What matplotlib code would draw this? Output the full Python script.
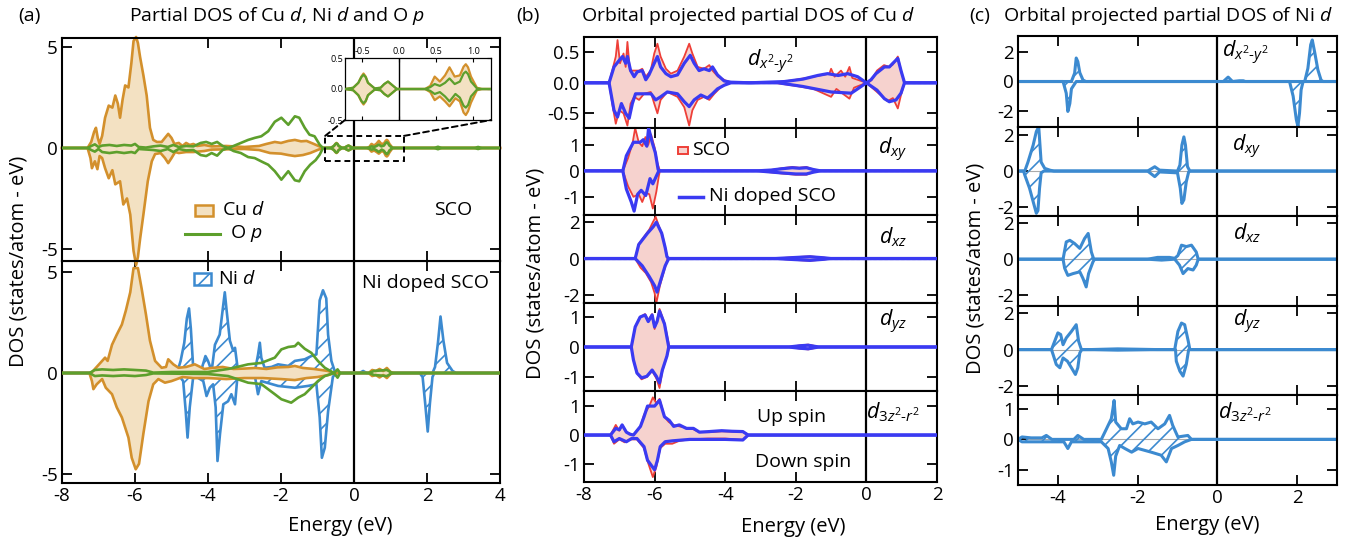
import numpy as np
import matplotlib
matplotlib.use("Agg")
import matplotlib.pyplot as plt
from matplotlib.patches import Rectangle, ConnectionPatch
from matplotlib.lines import Line2D

plt.rcParams['font.family'] = ['Open Sans', 'DejaVu Sans']
plt.rcParams['mathtext.fontset'] = 'custom'
plt.rcParams['mathtext.rm'] = 'Open Sans'
plt.rcParams['mathtext.it'] = 'Open Sans:italic'
plt.rcParams['mathtext.bf'] = 'Open Sans:bold'
plt.rcParams['hatch.linewidth'] = 1.2
plt.rcParams['axes.unicode_minus'] = False

# ---------------- colours ----------------
C_CU, F_CU = '#D3902C', '#F3E1C2'
C_O = '#5D9F2C'
C_NI = '#3C8AD0'
C_SCO, F_SCO = '#EE3F38', '#F6D2CE'
C_NID = '#3A3AF2'

# ---------------- data : panel (a) top (SCO) ----------------
CU_A_UP = [(-8,0),(-7.3,0),(-7.2,0.3),(-7.12,0.8),(-7.07,1.0),(-7.02,0.5),(-6.97,0.2),(-6.9,0.6),(-6.82,1.5),
           (-6.72,2.1),(-6.62,2.0),(-6.54,2.6),(-6.47,2.2),(-6.41,1.5),(-6.34,2.4),(-6.27,3.1),(-6.18,3.0),
           (-6.1,4.2),(-6.04,5.3),(-5.97,5.5),(-5.92,5.2),(-5.86,4.5),(-5.77,3.6),(-5.68,2.6),(-5.59,1.0),
           (-5.5,0.4),(-5.4,0.3),(-5.27,0.3),(-5.18,0.5),(-5.09,0.7),(-5.0,0.5),(-4.92,0.2),(-4.8,0.25),
           (-4.7,0.1),(-4.6,0.25),(-4.5,0.15),(-4.4,0.2),(-4.3,0.1),(-4.1,0.15),(-3.9,0.08),(-3.5,0.1),
           (-3.0,0.05),(-2.6,0.1),(-2.4,0.2),(-2.17,0.3),(-2.0,0.25),(-1.8,0.35),(-1.62,0.4),(-1.45,0.33),
           (-1.3,0.35),(-1.1,0.2),(-0.95,0.08),(-0.85,0.0),
           (-0.73,0),(-0.62,0.02),(-0.55,0.1),(-0.51,0.2),(-0.48,0.25),(-0.45,0.2),(-0.42,0.1),(-0.33,0.01),
           (-0.25,0.02),(-0.2,0.08),(-0.15,0.12),(-0.1,0.07),(-0.03,0.0),(0.35,0.0),(0.42,0.05),(0.48,0.2),
           (0.55,0.12),(0.62,0.22),(0.68,0.35),(0.75,0.2),(0.82,0.22),(0.87,0.36),(0.9,0.4),(0.93,0.35),
           (0.97,0.2),(1.05,0.02),(1.12,0),(4,0)]
CU_A_DN = [(-8,0),(-7.3,0),(-7.22,-0.5),(-7.18,-1.0),(-7.1,-0.66),(-7.03,-1.05),(-6.97,-0.4),(-6.9,-0.5),
           (-6.82,-1.0),(-6.72,-1.5),(-6.62,-1.1),(-6.54,-1.8),(-6.41,-1.65),(-6.32,-2.8),(-6.22,-2.5),
           (-6.13,-3.3),(-6.04,-5.1),(-5.97,-5.8),(-5.92,-5.4),(-5.86,-4.5),(-5.77,-3.3),(-5.65,-1.65),
           (-5.54,-0.66),(-5.45,-0.3),(-5.3,-0.25),(-5.18,-0.5),(-5.09,-0.75),(-5.0,-0.5),(-4.9,-0.2),
           (-4.8,-0.25),(-4.6,-0.2),(-4.4,-0.2),(-4.1,-0.15),(-3.9,-0.08),(-3.0,-0.05),(-2.6,-0.1),
           (-2.3,-0.25),(-2.0,-0.28),(-1.8,-0.35),(-1.62,-0.4),(-1.4,-0.35),(-1.2,-0.25),(-1.0,-0.1),(-0.85,0.0),
           (-0.73,0),(-0.62,-0.02),(-0.55,-0.1),(-0.51,-0.2),(-0.48,-0.25),(-0.45,-0.2),(-0.42,-0.1),
           (-0.33,-0.01),(-0.25,-0.02),(-0.2,-0.08),(-0.15,-0.12),(-0.1,-0.07),(-0.03,0.0),(0.35,0.0),
           (0.42,-0.05),(0.48,-0.18),(0.55,-0.12),(0.62,-0.2),(0.68,-0.28),(0.76,-0.15),(0.82,-0.2),
           (0.87,-0.38),(0.9,-0.42),(0.93,-0.36),(0.97,-0.22),(1.05,-0.02),(1.12,0),(4,0)]
O_A_UP = [(-8,0),(-7.3,0),(-7.2,0.1),(-7.1,0.18),(-7.0,0.05),(-6.9,0.12),(-6.7,0.15),(-6.5,0.1),(-6.3,0.15),
          (-6.1,0.12),(-6.0,0.2),(-5.9,0.05),(-5.7,0.02),(-5.5,0.08),(-5.3,0.12),(-5.1,0.05),(-4.95,0.15),
          (-4.8,0.05),(-4.6,0.1),(-4.4,0.08),(-4.2,0.25),(-4.05,0.3),(-3.9,0.2),(-3.75,0.3),(-3.6,0.1),
          (-3.45,0.0),(-3.3,0.1),(-3.1,0.25),(-2.9,0.4),(-2.72,0.5),(-2.54,0.58),(-2.35,0.83),(-2.17,1.3),
          (-1.99,1.5),(-1.8,1.15),(-1.62,1.57),(-1.5,1.5),(-1.35,1.0),(-1.22,0.66),(-1.08,0.58),(-0.94,0.16),
          (-0.85,0.0),
          (-0.73,0),(-0.62,0.02),(-0.55,0.1),(-0.51,0.19),(-0.48,0.23),(-0.45,0.19),(-0.42,0.1),(-0.33,0.01),
          (-0.25,0.02),(-0.2,0.08),(-0.15,0.12),(-0.1,0.07),(-0.03,0.0),(0.35,0.0),(0.42,0.03),(0.48,0.08),
          (0.55,0.05),(0.62,0.1),(0.68,0.17),(0.75,0.08),(0.82,0.12),(0.87,0.25),(0.9,0.28),(0.93,0.24),
          (0.97,0.12),(1.05,0.01),(1.12,0),(2.2,0),(2.3,0.06),(2.4,0),(3.3,0),(3.4,0.05),(3.5,0),(4,0)]
O_A_DN = [(-8,0),(-7.3,0),(-7.2,-0.1),(-7.1,-0.18),(-7.0,-0.05),(-6.9,-0.2),(-6.7,-0.25),(-6.5,-0.2),
          (-6.3,-0.25),(-6.1,-0.2),(-6.0,-0.25),(-5.9,-0.05),(-5.5,-0.1),(-5.3,-0.15),(-5.1,-0.05),
          (-4.95,-0.2),(-4.8,-0.05),(-4.6,-0.12),(-4.4,-0.1),(-4.2,-0.35),(-4.05,-0.4),(-3.9,-0.25),
          (-3.75,-0.38),(-3.6,-0.1),(-3.45,0.0),(-3.3,-0.15),(-3.1,-0.25),(-2.9,-0.45),(-2.72,-0.5),
          (-2.5,-0.7),(-2.35,-0.83),(-2.17,-1.15),(-1.99,-1.57),(-1.8,-1.15),(-1.62,-1.6),(-1.5,-1.65),
          (-1.35,-1.15),(-1.2,-0.83),(-1.05,-0.6),(-0.94,-0.33),(-0.85,0.0),
          (-0.73,0),(-0.62,-0.02),(-0.55,-0.1),(-0.51,-0.19),(-0.48,-0.23),(-0.45,-0.19),(-0.42,-0.1),
          (-0.33,-0.01),(-0.25,-0.02),(-0.2,-0.08),(-0.15,-0.12),(-0.1,-0.07),(-0.03,0.0),(0.35,0.0),
          (0.42,-0.03),(0.48,-0.08),(0.55,-0.05),(0.62,-0.12),(0.68,-0.2),(0.76,-0.08),(0.82,-0.14),
          (0.87,-0.27),(0.9,-0.3),(0.93,-0.26),(0.97,-0.12),(1.05,-0.01),(1.12,0),(2.2,0),(2.3,-0.06),
          (2.4,0),(3.3,0),(3.4,-0.05),(3.5,0),(4,0)]

# ---------------- data : panel (a) bottom (Ni doped SCO) ----------------
CU_B_UP = [(-8,0),(-7.2,0),(-7.1,0.2),(-6.9,0.6),(-6.82,0.76),(-6.75,0.6),(-6.63,1.4),(-6.5,1.9),(-6.36,2.4),
           (-6.25,3.1),(-6.13,4.0),(-6.04,5.2),(-5.92,5.2),(-5.82,4.2),(-5.7,2.9),(-5.59,1.6),(-5.45,0.6),
           (-5.27,0.26),(-5.15,0.3),(-5.09,0.68),(-4.95,0.43),(-4.81,0.26),(-4.6,0.3),(-4.36,0.43),(-4.1,0.2),
           (-3.9,0.25),(-3.6,0.3),(-3.3,0.2),(-3.0,0.22),(-2.7,0.25),(-2.4,0.2),(-2.1,0.28),(-1.8,0.3),
           (-1.62,0.35),(-1.4,0.25),(-1.1,0.2),(-0.9,0.15),(-0.71,0.1),(-0.55,0.0),(0.4,0),(0.5,0.15),
           (0.6,0.1),(0.7,0.2),(0.8,0.1),(0.9,0.25),(1.0,0.05),(1.1,0),(4,0)]
CU_B_DN = [(-8,0),(-7.25,0),(-7.18,-0.4),(-7.14,-0.8),(-7.05,-0.56),(-6.9,-0.3),(-6.8,-0.73),(-6.63,-1.05),
           (-6.5,-1.7),(-6.36,-2.2),(-6.27,-2.7),(-6.18,-3.2),(-6.09,-4.2),(-5.98,-4.77),(-5.89,-4.5),
           (-5.77,-3.0),(-5.63,-1.4),(-5.5,-0.56),(-5.36,-0.3),(-5.18,-0.48),(-5.0,-0.4),(-4.7,-0.2),
           (-4.4,-0.25),(-4.0,-0.25),(-3.5,-0.3),(-3.0,-0.25),(-2.5,-0.25),(-2.0,-0.3),(-1.62,-0.35),
           (-1.3,-0.25),(-1.0,-0.2),(-0.7,-0.1),(-0.55,0),(0.4,0),(0.5,-0.15),(0.6,-0.1),(0.7,-0.22),
           (0.8,-0.1),(0.9,-0.25),(1.0,-0.05),(1.1,0),(4,0)]
NI_A_UP = [(-8,0),(-4.85,0),(-4.75,0.6),(-4.65,1.5),(-4.58,2.7),(-4.52,3.2),(-4.47,2.2),(-4.4,0.1),(-4.2,0.05),
           (-4.07,0.84),(-4.0,0.6),(-3.9,0.1),(-3.81,1.4),(-3.68,1.9),(-3.58,3.4),(-3.54,4.0),(-3.49,3.1),
           (-3.4,1.6),(-3.31,1.1),(-3.26,1.25),(-3.19,0.26),(-3.08,0.05),(-2.72,0.05),(-2.63,0.9),(-2.58,1.5),
           (-2.54,0.76),(-2.45,0.26),(-2.26,0.3),(-2.08,0.43),(-1.8,0.35),(-1.62,0.6),(-1.35,0.68),
           (-1.17,0.84),(-1.03,0.92),(-0.94,3.6),(-0.85,4.1),(-0.76,3.7),(-0.71,1.9),(-0.62,0.6),(-0.53,0.1),
           (-0.45,0),(0.15,0),(0.25,0.1),(0.35,0),(2.15,0),(2.22,0.3),(2.3,1.5),(2.37,2.8),(2.45,1.6),
           (2.55,0.5),(2.7,0.1),(2.8,0),(4,0)]
NI_A_DN = [(-8,0),(-4.85,0),(-4.68,-0.4),(-4.61,-1.9),(-4.56,-3.2),(-4.5,-1.7),(-4.4,-0.1),(-4.13,-0.4),
           (-4.04,-1.14),(-3.95,-0.73),(-3.86,-0.56),(-3.79,-1.7),(-3.74,-4.36),(-3.67,-3.0),(-3.58,-1.55),
           (-3.45,-1.4),(-3.36,-1.05),(-3.26,-1.55),(-3.19,-0.1),(-2.72,-0.1),(-2.63,-1.05),(-2.54,-0.4),
           (-2.08,-0.64),(-1.62,-0.73),(-1.26,-0.64),(-1.03,-0.56),(-0.94,-2.2),(-0.88,-4.2),(-0.8,-3.7),
           (-0.71,-1.9),(-0.58,-0.2),(-0.5,0),(1.8,0),(1.88,-0.2),(1.95,-1.5),(2.02,-2.9),(2.08,-1.5),
           (2.15,-0.2),(2.2,0),(4,0)]
O_B_UP = [(-8,0),(-7.25,0),(-7.1,0.15),(-6.9,0.18),(-6.6,0.15),(-6.3,0.18),(-6.0,0.15),(-5.7,0.12),(-5.5,0.02),
          (-5.0,0.05),(-4.5,0.05),(-4.0,0.05),(-3.45,0.2),(-3.2,0.3),(-2.9,0.43),(-2.54,0.5),(-2.17,0.76),
          (-1.99,1.17),(-1.8,1.29),(-1.62,1.33),(-1.53,1.5),(-1.35,1.2),(-1.17,1.0),(-0.99,0.6),(-0.8,0.26),
          (-0.55,0.0),(-0.45,0.18),(-0.38,0.0),(0.4,0),(0.55,0.1),(0.7,0.12),(0.9,0.15),(1.05,0),(4,0)]
O_B_DN = [(-8,0),(-7.25,0),(-7.1,-0.15),(-6.9,-0.12),(-6.6,-0.15),(-6.3,-0.12),(-6.0,-0.15),(-5.7,-0.1),
          (-5.5,-0.02),(-4.0,-0.05),(-3.45,-0.15),(-3.2,-0.3),(-2.9,-0.48),(-2.54,-0.55),(-2.17,-1.05),
          (-1.99,-1.3),(-1.72,-1.47),(-1.53,-1.22),(-1.35,-1.05),(-1.17,-0.73),(-0.99,-0.4),(-0.8,-0.15),
          (-0.55,0.0),(-0.45,-0.23),(-0.38,0.0),(0.4,0),(0.55,-0.1),(0.7,-0.12),(0.9,-0.15),(1.05,0),(4,0)]

# ---------------- data : panel (b) Cu d orbitals (SCO vs Ni doped SCO) ----------------
SCO_B1_UP = [(-8,0),(-7.29,0),(-7.2,0.2),(-7.1,0.43),(-7.05,0.7),(-6.98,0.32),(-6.88,0.48),(-6.82,0.26),
             (-6.77,0.67),(-6.7,0.2),(-6.58,0.2),(-6.44,0.2),(-6.35,0.23),(-6.25,0.1),(-6.11,0.2),(-6.01,0.48),
             (-5.92,0.64),(-5.83,0.43),(-5.68,0.23),(-5.54,0.15),(-5.35,0.2),(-5.16,0.43),(-5.02,0.64),
             (-4.93,0.48),(-4.78,0.26),(-4.6,0.23),(-4.45,0.29),(-4.36,0.2),(-4.2,0.1),(-4.0,0.04),(-3.8,0.0),
             (-2.6,0.0),(-2.0,0.05),(-1.5,0.1),(-1.05,0.15),(-1.0,0.23),(-0.9,0.1),(-0.72,0.2),(-0.6,0.1),
             (-0.48,0.26),(-0.4,0.08),(-0.25,0.05),(-0.1,0.02),(0.05,0.0),(0.15,0.05),(0.3,0.2),(0.5,0.29),
             (0.65,0.26),(0.75,0.3),(0.89,0.43),(0.98,0.2),(1.08,0),(2,0)]
NI_B1_UP = [(-8,0),(-7.29,0),(-7.15,0.26),(-7.0,0.37),(-6.91,0.43),(-6.82,0.32),(-6.77,0.43),(-6.68,0.2),
            (-6.58,0.1),(-6.49,0.18),(-6.35,0.2),(-6.25,0.05),(-6.16,0.13),(-6.01,0.32),(-5.92,0.43),
            (-5.83,0.26),(-5.68,0.15),(-5.54,0.1),(-5.35,0.13),(-5.16,0.32),(-4.99,0.45),(-4.88,0.32),
            (-4.74,0.2),(-4.6,0.23),(-4.45,0.2),(-4.36,0.26),(-4.22,0.13),(-4.03,0.03),(-3.84,0.01),(-3.3,0),
            (-2.33,0.02),(-1.8,0.06),(-1.38,0.12),(-1.1,0.15),(-0.8,0.12),(-0.53,0.15),(-0.25,0.1),(0,0),
            (0.13,0.05),(0.27,0.15),(0.51,0.26),(0.65,0.26),(0.75,0.32),(0.89,0.4),(0.98,0.2),(1.08,0),(2,0)]
SCO_B1_DN = [(-8,0),(-7.29,0),(-7.2,-0.34),(-7.1,-0.67),(-7.0,-0.45),(-6.88,-0.5),(-6.77,-0.7),(-6.68,-0.34),
             (-6.58,-0.23),(-6.44,-0.28),(-6.3,-0.18),(-6.11,-0.15),(-6.01,-0.34),(-5.92,-0.5),(-5.83,-0.28),
             (-5.64,-0.15),(-5.35,-0.23),(-5.16,-0.4),(-5.02,-0.7),(-4.93,-0.45),(-4.78,-0.28),(-4.6,-0.23),
             (-4.45,-0.28),(-4.31,-0.18),(-4.12,-0.07),(-3.9,0),(-2.6,0),(-2.0,-0.05),(-1.5,-0.1),(-1.0,-0.23),
             (-0.85,-0.1),(-0.48,-0.26),(-0.35,-0.08),(0,0),(0.3,-0.15),(0.6,-0.3),(0.75,-0.25),(0.89,-0.42),
             (0.98,-0.2),(1.08,0),(2,0)]
NI_B1_DN = [(-8,0),(-7.29,0),(-7.15,-0.45),(-7.05,-0.56),(-6.94,-0.34),(-6.82,-0.5),(-6.72,-0.58),
            (-6.63,-0.34),(-6.54,-0.18),(-6.4,-0.18),(-6.25,-0.18),(-6.1,-0.18),(-5.97,-0.28),(-5.83,-0.23),
            (-5.64,-0.15),(-5.35,-0.18),(-5.16,-0.31),(-5.02,-0.39),(-4.88,-0.28),(-4.69,-0.2),(-4.5,-0.25),
            (-4.36,-0.18),(-4.22,-0.1),(-4.03,-0.04),(-3.84,0),(-2.5,0),(-1.8,-0.06),(-1.0,-0.15),
            (-0.43,-0.17),(-0.2,-0.08),(0,0),(0.3,-0.12),(0.51,-0.26),(0.65,-0.31),(0.84,-0.28),(0.98,-0.17),
            (1.08,0),(2,0)]

SCO_B2_UP = [(-8,0),(-6.9,0),(-6.75,0.5),(-6.62,1.1),(-6.55,1.65),(-6.45,1.1),(-6.35,0.95),(-6.26,1.3),
             (-6.18,1.0),(-6.1,1.4),(-6.0,0.9),(-5.92,0.3),(-5.85,0),(-3.1,0),(-2.7,0.03),(-2.4,0.1),
             (-2.1,0.15),(-1.9,0.12),(-1.7,0.15),(-1.5,0.05),(-1.3,0),(2,0)]
NI_B2_UP = [(-8,0),(-6.9,0),(-6.8,0.58),(-6.6,1.1),(-6.41,1.1),(-6.32,1.2),(-6.22,0.95),(-6.17,1.65),
            (-6.07,1.1),(-5.98,0.7),(-5.9,0.05),(-5.85,0),(-3.1,0),(-2.7,0.03),(-2.4,0.08),(-2.1,0.12),
            (-1.9,0.1),(-1.7,0.12),(-1.5,0.05),(-1.3,0),(2,0)]
SCO_B2_DN = [(-8,0),(-6.9,0),(-6.75,-0.6),(-6.6,-1.0),(-6.45,-0.9),(-6.35,-1.2),(-6.25,-0.85),(-6.15,-0.9),
             (-6.05,-1.45),(-5.95,-0.8),(-5.88,-0.2),(-5.85,0),(-3.1,0),(-2.4,-0.1),(-2.0,-0.15),
             (-1.7,-0.15),(-1.5,-0.05),(-1.3,0),(2,0)]
NI_B2_DN = [(-8,0),(-6.9,0),(-6.8,-0.7),(-6.66,-1.2),(-6.58,-1.55),(-6.48,-0.9),(-6.38,-0.75),(-6.25,-0.95),
            (-6.13,-0.3),(-6.05,-0.5),(-5.95,-0.2),(-5.88,0),(-3.1,0),(-2.4,-0.08),(-2.0,-0.12),(-1.7,-0.12),
            (-1.5,-0.05),(-1.3,0),(2,0)]

SCO_B3_UP = [(-8,0),(-6.55,0),(-6.45,0.8),(-6.3,1.2),(-6.15,1.6),(-6.05,2.0),(-5.97,2.3),(-5.88,1.8),
             (-5.78,1.3),(-5.7,0.6),(-5.63,0),(-2.6,0),(-2.0,0.08),(-1.6,0.12),(-1.2,0.05),(-1.0,0),(2,0)]
NI_B3_UP = [(-8,0),(-6.55,0),(-6.45,0.77),(-6.2,1.4),(-6.04,1.75),(-5.95,2.0),(-5.8,1.4),(-5.7,0.6),
            (-5.65,0.1),(-5.6,0),(-2.6,0),(-2.0,0.06),(-1.6,0.1),(-1.2,0.04),(-1.0,0),(2,0)]
SCO_B3_DN = [(-8,0),(-6.55,0),(-6.4,-0.5),(-6.25,-0.8),(-6.1,-1.3),(-6.0,-1.9),(-5.95,-2.45),(-5.85,-1.5),
             (-5.72,-0.6),(-5.63,0),(-2.6,0),(-2.0,-0.08),(-1.6,-0.12),(-1.2,-0.05),(-1.0,0),(2,0)]
NI_B3_DN = [(-8,0),(-6.55,0),(-6.35,-0.4),(-6.15,-1.0),(-6.0,-1.5),(-5.93,-1.85),(-5.82,-1.15),(-5.7,-0.4),
            (-5.6,0),(-2.6,0),(-2.0,-0.06),(-1.6,-0.1),(-1.2,-0.04),(-1.0,0),(2,0)]

SCO_B4_UP = [(-8,0),(-6.66,0),(-6.55,0.67),(-6.41,1.0),(-6.27,1.1),(-6.18,0.9),(-6.07,1.1),(-6.0,0.6),
             (-5.93,0.9),(-5.86,1.27),(-5.72,0.8),(-5.58,0),(-2.2,0),(-1.9,0.05),(-1.65,0.08),(-1.45,0.03),
             (-1.35,0),(2,0)]
NI_B4_UP = [(-8,0),(-6.66,0),(-6.55,0.67),(-6.41,1.0),(-6.27,1.07),(-6.18,0.85),(-6.07,1.07),(-6.0,0.67),
            (-5.93,0.85),(-5.86,1.2),(-5.72,0.77),(-5.6,0),(-2.2,0),(-1.9,0.04),(-1.65,0.06),(-1.45,0.02),
            (-1.35,0),(2,0)]
SCO_B4_DN = [(-8,0),(-6.66,0),(-6.6,-0.43),(-6.5,-0.87),(-6.37,-1.08),(-6.22,-1.0),(-6.07,-0.8),(-5.95,-1.05),
             (-5.86,-1.37),(-5.78,-0.8),(-5.65,-0.3),(-5.58,0),(-2.2,0),(-1.9,-0.05),(-1.65,-0.08),
             (-1.45,-0.03),(-1.35,0),(2,0)]
NI_B4_DN = [(-8,0),(-6.66,0),(-6.6,-0.43),(-6.5,-0.87),(-6.37,-1.03),(-6.22,-0.98),(-6.07,-0.77),(-5.95,-0.98),
            (-5.86,-1.2),(-5.78,-0.77),(-5.65,-0.3),(-5.6,0),(-2.2,0),(-1.9,-0.04),(-1.65,-0.06),(-1.45,-0.02),
            (-1.35,0),(2,0)]

SCO_B5_UP = [(-8,0),(-7.25,0),(-7.1,0.35),(-7.0,0.15),(-6.92,0.35),(-6.8,0.1),(-6.7,0.05),(-6.6,0.0),(-6.4,0.3),
             (-6.3,0.7),(-6.15,1.0),(-6.05,1.3),(-5.95,1.1),(-5.86,1.25),(-5.72,0.63),(-5.6,0.45),(-5.46,0.35),
             (-5.3,0.3),(-5.1,0.25),(-4.9,0.2),(-4.73,0.1),(-4.45,0.1),(-4.1,0.13),(-3.8,0.12),(-3.5,0.12),
             (-3.35,0),(2,0)]
NI_B5_UP = [(-8,0),(-7.25,0),(-7.1,0.23),(-7.0,0.18),(-6.92,0.35),(-6.8,0.1),(-6.7,0.03),(-6.6,0.0),(-6.4,0.3),
            (-6.3,0.63),(-6.2,1.0),(-6.0,1.0),(-5.86,1.2),(-5.72,0.63),(-5.58,0.5),(-5.46,0.3),(-5.3,0.35),
            (-5.1,0.23),(-4.9,0.23),(-4.73,0.1),(-4.45,0.12),(-4.1,0.15),(-3.8,0.13),(-3.5,0.12),(-3.35,0),(2,0)]
SCO_B5_DN = [(-8,0),(-7.25,0),(-7.15,-0.3),(-7.0,-0.15),(-6.85,-0.25),(-6.7,-0.15),(-6.5,-0.15),(-6.3,-0.45),
             (-6.2,-0.9),(-6.05,-1.45),(-5.95,-1.1),(-5.84,-0.45),(-5.7,-0.3),(-5.5,-0.3),(-5.3,-0.2),
             (-5.0,-0.15),(-4.5,-0.12),(-4.0,-0.12),(-3.5,-0.17),(-3.35,0),(2,0)]
NI_B5_DN = [(-8,0),(-7.25,0),(-7.15,-0.23),(-7.0,-0.12),(-6.8,-0.23),(-6.65,-0.12),(-6.5,-0.12),(-6.3,-0.4),
            (-6.2,-0.87),(-6.0,-1.2),(-5.92,-0.87),(-5.84,-0.4),(-5.7,-0.23),(-5.5,-0.2),(-5.0,-0.15),
            (-4.5,-0.15),(-4.0,-0.15),(-3.5,-0.17),(-3.35,0),(2,0)]

# ---------------- data : panel (c) Ni d orbitals ----------------
C1_UP = [(-5,0),(-3.66,0),(-3.58,0.57),(-3.54,1.6),(-3.5,1.36),(-3.45,0.6),(-3.37,0.1),(-3.3,0),(0.15,0),
         (0.27,0.3),(0.38,0),(0.55,0.05),(0.65,0.05),(0.7,0),(2.19,0),(2.27,0.9),(2.34,2.5),(2.38,2.83),
         (2.44,2.0),(2.52,0.8),(2.6,0.1),(2.65,0),(3,0)]
C1_DN = [(-5,0),(-3.87,0),(-3.79,-0.8),(-3.75,-2.04),(-3.7,-1.5),(-3.66,-0.5),(-3.54,0),(1.81,0),(1.9,-1.0),
         (1.98,-2.6),(2.02,-3.06),(2.06,-2.15),(2.1,-0.57),(2.15,0),(3,0)]
C2_UP = [(-5,0),(-4.83,0),(-4.75,0.5),(-4.62,1.44),(-4.54,2.2),(-4.48,2.46),(-4.42,0.5),(-4.33,0.15),
         (-4.2,0.05),(-4.1,0),(-1.75,0),(-1.57,0.24),(-1.45,0.05),(-1.0,0),(-0.94,0.33),(-0.89,1.44),
         (-0.84,1.9),(-0.8,1.44),(-0.75,0.25),(-0.69,0),(3,0)]
C2_DN = [(-5,0),(-4.86,0),(-4.83,-0.22),(-4.71,-0.96),(-4.62,-1.7),(-4.54,-2.35),(-4.5,-2.2),(-4.46,-0.96),
         (-4.42,-0.1),(-4.35,0),(-1.75,0),(-1.57,-0.31),(-1.45,-0.05),(-1.0,-0.1),(-0.93,-0.96),(-0.89,-1.8),
         (-0.84,-1.6),(-0.78,-0.6),(-0.72,-0.05),(-0.68,0),(3,0)]
C3_UP = [(-5,0),(-3.87,0),(-3.79,0.96),(-3.7,1.05),(-3.58,0.87),(-3.45,0.6),(-3.33,1.15),(-3.24,1.43),
         (-3.16,0.4),(-3.1,0),(-1.75,0),(-1.5,0.1),(-1.2,0.1),(-1.07,0.05),(-0.99,0.2),(-0.9,0.78),(-0.78,0.7),
         (-0.65,0.78),(-0.53,0.4),(-0.48,0),(3,0)]
C3_DN = [(-5,0),(-3.87,0),(-3.83,-0.5),(-3.75,-0.9),(-3.62,-0.8),(-3.45,-0.7),(-3.37,-1.07),(-3.29,-1.54),
         (-3.23,-0.8),(-3.12,-0.15),(-3.08,0),(-1.75,0),(-1.4,-0.05),(-1.07,0),(-0.95,-0.33),(-0.86,-0.8),
         (-0.74,-0.52),(-0.61,-0.6),(-0.53,-0.33),(-0.48,0),(3,0)]
C4_UP = [(-5,0),(-4.16,0),(-4.08,0.46),(-4.0,0.92),(-3.93,0.83),(-3.87,0.27),(-3.79,0.64),(-3.66,1.0),
         (-3.54,1.37),(-3.48,0.46),(-3.41,0),(-3.2,0),(-2.5,0.04),(-2.0,0.02),(-1.5,0),(-1.07,0),(-0.99,1.0),
         (-0.9,1.46),(-0.82,1.37),(-0.73,0.46),(-0.69,0),(3,0)]
C4_DN = [(-5,0),(-4.16,0),(-4.12,-0.27),(-4.04,-0.82),(-3.95,-1.0),(-3.87,-0.46),(-3.76,-0.64),(-3.66,-1.0),
         (-3.56,-1.37),(-3.5,-1.0),(-3.45,-0.18),(-3.4,0),(-3.2,0),(-2.5,-0.03),(-1.5,0),(-1.05,0),
         (-1.03,-0.64),(-0.94,-1.19),(-0.86,-1.46),(-0.78,-0.82),(-0.72,0),(3,0)]
C5_UP = [(-5,0),(-4.9,0.08),(-4.67,0.05),(-4.4,0.05),(-4.29,0.13),(-4.15,0),(-3.6,0),(-3.5,0.13),(-3.35,0),
         (-2.91,0),(-2.78,0.35),(-2.66,0.68),(-2.62,1.0),(-2.59,1.28),(-2.55,0.57),(-2.41,0.35),(-2.28,0.35),
         (-2.2,0.68),(-2.12,0.51),(-1.99,0.57),(-1.82,0.51),(-1.66,0.57),(-1.49,0.35),(-1.32,0.51),(-1.2,0.79),
         (-1.12,0.46),(-0.99,0.08),(-0.74,0.13),(-0.65,0),(3,0)]
C5_DN = [(-5,0),(-4.9,-0.08),(-4.5,-0.08),(-3.85,-0.08),(-3.75,-0.3),(-3.66,-0.08),(-2.91,-0.08),(-2.74,-0.3),
         (-2.66,-0.74),(-2.6,-1.18),(-2.55,-0.55),(-2.45,-0.2),(-2.32,-0.3),(-2.15,-0.42),(-1.99,-0.3),
         (-1.66,-0.42),(-1.41,-0.52),(-1.28,-0.74),(-1.15,-0.3),(-0.99,-0.2),(-0.82,-0.08),(-0.65,0),(3,0)]

# ---------------- axis settings ----------------
A_XTICKS = [-8, -6, -4, -2, 0, 2, 4]
B_XTICKS = [-8, -6, -4, -2, 0, 2]
C_XTICKS = [-4, -2, 0, 2]
B_YLIMS = [(-0.74, 0.75), (-1.7, 1.65), (-2.45, 2.4), (-1.47, 1.47), (-1.62, 1.52)]
B_YTICKS = [([0.5, 0.0, -0.5], ['0.5', '0.0', '-0.5']), ([1, 0, -1], ['1', '0', '-1']),
            ([2, 0, -2], ['2', '0', '-2']), ([1, 0, -1], ['1', '0', '-1']), ([1, 0, -1], ['1', '0', '-1'])]
C_YLIMS = [(-3.1, 3.1), (-2.5, 2.45), (-2.6, 2.4), (-2.5, 2.4), (-1.5, 1.46)]
C_YTICKS = [([2, 0, -2], ['2', '0', '-2'])] * 4 + [([1, 0, -1], ['1', '0', '-1'])]
ORB_LABELS = [r'$d_{x^2\text{-}y^2}$', r'$d_{xy}$', r'$d_{xz}$', r'$d_{yz}$', r'$d_{3z^2\text{-}r^2}$']

W, H = 1359, 542
fig = plt.figure(figsize=(W / 100, H / 100), dpi=100)
TOP = 30


def add_ax(l, t, r, b):
    return fig.add_axes([l / W, 1 - b / H, (r - l) / W, (b - t) / H])


def ftext(x, y, s, **kw):
    kw.setdefault('ha', 'center')
    kw.setdefault('va', 'center')
    kw.setdefault('zorder', TOP)
    return fig.text(x / W, 1 - y / H, s, **kw)


def pts(p):
    a = np.array(p, float)
    return a[:, 0], a[:, 1]


def style(ax, xlim, ylim, xticks, yticks, ylabels, bottom_labels):
    ax.set_xlim(*xlim)
    ax.set_ylim(*ylim)
    ax.set_xticks(xticks)
    ax.set_yticks(yticks)
    ax.set_yticklabels(ylabels)
    ax.tick_params(direction='in', top=True, right=True, length=7, width=1.3, labelsize=13.5, pad=3,
                   labelbottom=bottom_labels)
    for s in ax.spines.values():
        s.set_linewidth(1.5)
    ax.axvline(0, color='k', lw=1.6, zorder=1)


def spin_pair(ax, up, dn, color, lw, fill=None, hatch=None, clip=True, z=2):
    eu, vu = pts(up)
    ed, vd = pts(dn)
    if fill is not None or hatch is not None:
        ax.fill(np.r_[eu, ed[::-1]], np.r_[vu, vd[::-1]],
                facecolor=fill if fill is not None else 'none',
                edgecolor=color if hatch else 'none', hatch=hatch, lw=0, zorder=z, clip_on=clip)
    for e, v in ((eu, vu), (ed, vd)):
        ax.plot(e, v, color=color, lw=lw, zorder=z + 0.5, clip_on=clip, solid_joinstyle='round')


# ======================= panel (a) =======================
axa1 = add_ax(62, 38, 500, 261)
axa2 = add_ax(62, 261, 500, 483)
style(axa1, (-8, 4), (-5.6, 5.45), A_XTICKS, [5, 0, -5], ['5', '0', '-5'], False)
style(axa2, (-8, 4), (-5.45, 5.55), A_XTICKS, [5, 0, -5], ['5', '0', '-5'], True)
axa1.set_zorder(3)

spin_pair(axa1, CU_A_UP, CU_A_DN, C_CU, 1.9, fill=F_CU, clip=False, z=2)
spin_pair(axa1, O_A_UP, O_A_DN, C_O, 1.9, z=4)

spin_pair(axa2, NI_A_UP, NI_A_DN, C_NI, 1.9, hatch='//', z=2)
spin_pair(axa2, CU_B_UP, CU_B_DN, C_CU, 1.9, fill=F_CU, z=3)
spin_pair(axa2, O_B_UP, O_B_DN, C_O, 1.9, z=5)

# dashed zoom box + inset
axa1.add_patch(Rectangle((-0.79, -0.65), 2.16, 1.25, fill=False, ls=(0, (3, 2)), lw=1.4, ec='k', zorder=6))
axin = add_ax(345, 58, 491, 120)
axin.set_zorder(10)
axin.set_xlim(-0.73, 1.24)
axin.set_ylim(-0.5, 0.5)
axin.set_xticks([-0.5, 0.0, 0.5, 1.0])
axin.set_xticklabels(['-0.5', '0.0', '0.5', '1.0'])
axin.set_yticks([0.5, 0.0, -0.5])
axin.set_yticklabels(['0.5', '0.0', '-0.5'])
axin.tick_params(direction='in', top=True, right=True, labeltop=True, labelbottom=False,
                 length=3, width=0.8, labelsize=6.5, pad=1.5)
for s in axin.spines.values():
    s.set_linewidth(0.9)
axin.axvline(0, color='k', lw=1.0, zorder=1)
axin.axhline(0, color='#b0a898', lw=1.0, zorder=1)
spin_pair(axin, CU_A_UP, CU_A_DN, C_CU, 1.6, fill=F_CU, z=2)
spin_pair(axin, O_A_UP, O_A_DN, C_O, 1.6, z=4)
for xa, xb in ((-0.79, 0.0), (1.37, 1.0)):
    cp = ConnectionPatch(xyA=(xa, 0.6), coordsA=axa1.transData, xyB=(xb, 0.0), coordsB=axin.transAxes,
                         ls=(0, (3, 2)), lw=1.4, color='k', zorder=TOP)
    fig.add_artist(cp)

# legends / labels (a)
fig.add_artist(Rectangle((195 / W, 1 - 216 / H), 18 / W, 11 / H, transform=fig.transFigure,
                         fc=F_CU, ec=C_CU, lw=1.8, zorder=TOP))
ftext(222, 210, r'Cu $d$', ha='left', fontsize=14)
fig.add_artist(Line2D([185 / W, 220 / W], [1 - 234 / H] * 2, transform=fig.transFigure, color=C_O, lw=2.2,
                      zorder=TOP))
ftext(230, 234, r'O $p$', ha='left', fontsize=14)
fig.add_artist(Rectangle((194 / W, 1 - 285 / H), 17 / W, 12 / H, transform=fig.transFigure,
                         fc='white', ec=C_NI, lw=1.8, hatch='//', zorder=TOP))
ftext(218, 279, r'Ni $d$', ha='left', fontsize=14)
ftext(453, 210, 'SCO', fontsize=14)
ftext(426, 283, 'Ni doped SCO', fontsize=14)

ftext(29, 16, '(a)', fontsize=14)
ftext(277, 16, r'Partial DOS of Cu $d$, Ni $d$ and O $p$', fontsize=14)
ftext(340, 526, 'Energy (eV)', fontsize=14.5)
ftext(19, 261, 'DOS (states/atom - eV)', rotation=90, fontsize=14.5)

# ======================= panel (b) =======================
b_rows = [(37, 128), (128, 215), (215, 303), (303, 391), (391, 482)]
b_data = [(SCO_B1_UP, SCO_B1_DN, NI_B1_UP, NI_B1_DN), (SCO_B2_UP, SCO_B2_DN, NI_B2_UP, NI_B2_DN),
          (SCO_B3_UP, SCO_B3_DN, NI_B3_UP, NI_B3_DN), (SCO_B4_UP, SCO_B4_DN, NI_B4_UP, NI_B4_DN),
          (SCO_B5_UP, SCO_B5_DN, NI_B5_UP, NI_B5_DN)]
b_lab_y = [62, 150, 237, 322, 412]
for i, ((t, b), (su, sd, nu, nd)) in enumerate(zip(b_rows, b_data)):
    ax = add_ax(584, t, 937, b)
    style(ax, (-8, 2), B_YLIMS[i], B_XTICKS, B_YTICKS[i][0], B_YTICKS[i][1], i == 4)
    ax.axhline(0, color='#999999', lw=0.8, ls=(0, (3, 2)), zorder=1.5)
    spin_pair(ax, su, sd, C_SCO, 1.3, fill=F_SCO, z=2)
    spin_pair(ax, nu, nd, C_NID, 2.3, z=4)
    ftext(770 if i == 0 else 893, b_lab_y[i], ORB_LABELS[i], fontsize=15.5)

fig.add_artist(Rectangle((678 / W, 1 - 154 / H), 10 / W, 7 / H, transform=fig.transFigure,
                         fc=F_SCO, ec=C_SCO, lw=1.4, zorder=TOP))
ftext(692, 150, 'SCO', ha='left', fontsize=14)
fig.add_artist(Line2D([679 / W, 703 / W], [1 - 197 / H] * 2, transform=fig.transFigure, color=C_NID, lw=2.5,
                      zorder=TOP))
ftext(709, 196, 'Ni doped SCO', ha='left', fontsize=14)
ftext(792, 417, 'Up spin', fontsize=14)
ftext(803, 462, 'Down spin', fontsize=14)

ftext(528, 16, '(b)', fontsize=14)
ftext(748, 16, r'Orbital projected partial DOS of Cu $d$', fontsize=14)
ftext(793, 527, 'Energy (eV)', fontsize=14.5)
ftext(536, 273, 'DOS (states/atom - eV)', rotation=90, fontsize=14.5)

# ======================= panel (c) =======================
c_rows = [(36, 127), (127, 216), (216, 306), (306, 395), (395, 485)]
c_data = [(C1_UP, C1_DN), (C2_UP, C2_DN), (C3_UP, C3_DN), (C4_UP, C4_DN), (C5_UP, C5_DN)]
c_lab_y = [53, 147, 233, 322, 412]
for i, ((t, b), (cu, cd)) in enumerate(zip(c_rows, c_data)):
    ax = add_ax(1018, t, 1337, b)
    style(ax, (-5, 3), C_YLIMS[i], C_XTICKS, C_YTICKS[i][0], C_YTICKS[i][1], i == 4)
    ax.axhline(0, color='#aaaaaa', lw=0.8, zorder=1.5)
    spin_pair(ax, cu, cd, C_NI, 2.2, hatch='//', z=2)
    ftext(1247 if i in (1, 2, 3) else 1245, c_lab_y[i], ORB_LABELS[i], fontsize=15.5)

ftext(980, 16, '(c)', fontsize=14)
ftext(1168, 16, r'Orbital projected partial DOS of Ni $d$', fontsize=14)
ftext(1207, 525, 'Energy (eV)', fontsize=14.5)
ftext(976, 268, 'DOS (states/atom - eV)', rotation=90, fontsize=14.5)

fig.savefig('out.png', dpi=100)
